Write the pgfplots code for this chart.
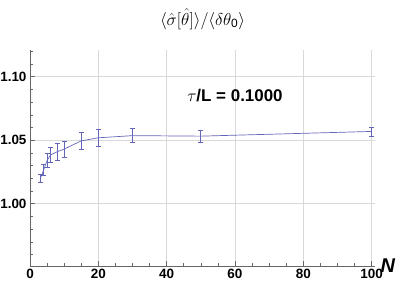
\documentclass[border=0pt]{standalone}
\usepackage{pgfplots}
\pgfplotsset{compat=1.18}
\usepackage{fontspec}
\setmainfont{Liberation Sans}
\definecolor{lc}{RGB}{100,100,185}
\pgfplotstableread{
N v e
3 1.0198 0.0033
4 1.0266 0.0045
5 1.0340 0.0055
6 1.0384 0.0059
8 1.0410 0.0066
10 1.0430 0.0065
15 1.0495 0.0065
20 1.0519 0.0064
30 1.0536 0.0055
50 1.0532 0.0046
100 1.0569 0.0035
}\datatab
\begin{document}
\begin{tikzpicture}
\useasboundingbox (-30bp,-19bp) rectangle (369bp,266bp);
\begin{axis}[
 at={(0,0)}, anchor=south west,
 scale only axis, width=345bp, height=216bp,
 xmin=0, xmax=101, ymin=0.951, ymax=1.121,
 axis lines*=left,
 axis line style={black!60, line width=0.6pt},
 tick align=inside,
 xtick={0,20,...,100}, ytick={1.00,1.05,1.10},
 minor xtick={5,10,15,25,30,35,45,50,55,65,70,75,85,90,95},
 minor ytick={0.96,0.97,0.98,0.99,1.01,1.02,1.03,1.04,1.06,1.07,1.08,1.09,1.11,1.12},
 major tick length=5bp, minor tick length=3bp,
 every tick/.style={black!60, line width=0.5pt},
 grid=major, major grid style={black!15, line width=0.7pt},
 /pgf/number format/assume math mode=true,
 ticklabel style={font=\fontsize{13.5}{15}\selectfont\bfseries},
 yticklabel style={/pgf/number format/.cd, fixed, fixed zerofill, precision=2},
 xlabel={\bfseries\itshape N},
 xlabel style={font=\fontsize{20}{22}\selectfont, at={(axis description cs:1,0)}, anchor=west, xshift=2bp},
 title={\fontsize{17.28}{19}\selectfont$\langle\hat{\sigma}[\hat{\theta}]\rangle/\langle\delta\theta_{\mathrm{0}}\rangle$},
 title style={at={(axis description cs:0.5,1)}, anchor=center, yshift=25bp},
 clip=false,
]
\addplot[lc, line width=0.7pt, mark=none,
  error bars/.cd, y dir=both, y explicit,
  error bar style={lc, line width=0.6pt},
  error mark options={lc, rotate=90, line width=0.6pt, mark size=2.5bp}]
  table[x=N, y=v, y error=e] {\datatab};
\node[font=\fontsize{17}{19}\selectfont\bfseries] at (axis cs:60,1.0854) {$\tau$/L = 0.1000};
\end{axis}
\end{tikzpicture}
\end{document}
